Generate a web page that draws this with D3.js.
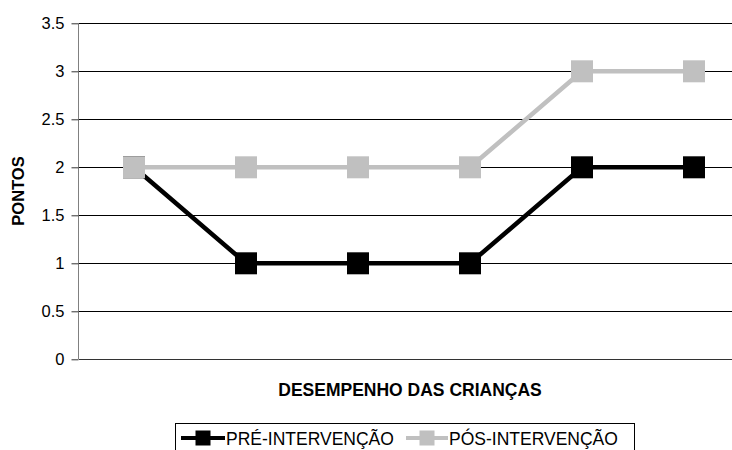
<!DOCTYPE html>
<html>
<head>
<meta charset="utf-8">
<script src="https://cdn.jsdelivr.net/npm/d3@7"></script>
<style>
  html, body { margin: 0; padding: 0; background: #fff; }
  svg { display: block; font-family: "Liberation Sans", Arial, sans-serif; }
</style>
</head>
<body>
<svg id="chart" width="732" height="450"></svg>
<script>
// Children's performance scores, before and after the intervention
const categories = ["1", "2", "3", "4", "5", "6"];
const preValues = [2, 1, 1, 1, 2, 2];
const posValues = [2, 2, 2, 2, 3, 3];
const yTicks = [0, 0.5, 1, 1.5, 2, 2.5, 3, 3.5];
const seriesNames = ["PRÉ-INTERVENÇÃO", "PÓS-INTERVENÇÃO"];
const seriesColors = ["#000000", "#c0c0c0"];

const svg = d3.select("#chart");
const plot = { left: 79, right: 751, top: 23.3, bottom: 359.3 };

const x = d3.scaleBand().domain(categories).range([plot.left - 1, plot.right - 1]);
const y = d3.scaleLinear().domain([0, 3.5]).range([plot.bottom, plot.top]);

// horizontal gridlines
svg.append("g")
  .selectAll("line")
  .data(yTicks.filter(t => t > 0))
  .join("line")
  .attr("x1", plot.left).attr("x2", plot.right)
  .attr("y1", d => Math.round(y(d)) + 0.5).attr("y2", d => Math.round(y(d)) + 0.5)
  .attr("stroke", "#000").attr("stroke-width", 1);

// y axis with tick labels
const yAxis = d3.axisLeft(y).tickValues(yTicks).tickSize(7).tickPadding(7)
  .tickFormat(d => String(d));
const gy = svg.append("g")
  .attr("transform", `translate(${plot.left - 0.5},0)`)
  .call(yAxis);
gy.select(".domain").attr("stroke", "#808080").attr("d", `M0,${plot.top}V${plot.bottom}`);
gy.selectAll(".tick line").attr("stroke", "#333");
gy.selectAll(".tick text").attr("font-size", 16.5).attr("fill", "#000")
  .attr("font-family", "'Liberation Sans', Arial, sans-serif");

// x axis baseline
svg.append("line")
  .attr("x1", plot.left).attr("x2", plot.right)
  .attr("y1", Math.round(y(0)) + 0.5).attr("y2", Math.round(y(0)) + 0.5)
  .attr("stroke", "#333").attr("stroke-width", 1);

// series lines and square markers
const cx = d => x(d) + x.bandwidth() / 2;
const line = d3.line().x(d => cx(d.cat)).y(d => y(d.v));
const series = [preValues, posValues].map((vals, i) => ({
  name: seriesNames[i], color: seriesColors[i],
  pts: categories.map((c, j) => ({ cat: c, v: vals[j] }))
}));
const markerSize = 22;
series.forEach(s => {
  const g = svg.append("g");
  g.append("path").datum(s.pts)
    .attr("d", line).attr("fill", "none")
    .attr("stroke", s.color).attr("stroke-width", 4.5)
    .attr("stroke-linejoin", "miter");
  g.selectAll("rect").data(s.pts).join("rect")
    .attr("x", d => cx(d.cat) - markerSize / 2)
    .attr("y", d => y(d.v) - markerSize / 2)
    .attr("width", markerSize).attr("height", markerSize)
    .attr("fill", s.color);
});

// axis titles
svg.append("text")
  .attr("transform", "translate(24,191) rotate(-90)")
  .attr("text-anchor", "middle")
  .attr("font-size", 16.5).attr("font-weight", "bold")
  .text("PONTOS");
svg.append("text")
  .attr("x", 410).attr("y", 396)
  .attr("text-anchor", "middle")
  .attr("font-size", 17.5).attr("font-weight", "bold")
  .text("DESEMPENHO DAS CRIANÇAS");

// legend
const legend = svg.append("g");
legend.append("rect")
  .attr("x", 175.5).attr("y", 423.5).attr("width", 459).attr("height", 40)
  .attr("fill", "#fff").attr("stroke", "#000").attr("stroke-width", 1);
const legendItems = [
  { x0: 181, x1: 225, tx: 226 },
  { x0: 406, x1: 448, tx: 449 }
];
series.forEach((s, i) => {
  const it = legendItems[i];
  const ly = 438;
  legend.append("line")
    .attr("x1", it.x0).attr("x2", it.x1).attr("y1", ly).attr("y2", ly)
    .attr("stroke", s.color).attr("stroke-width", 4);
  legend.append("rect")
    .attr("x", (it.x0 + it.x1) / 2 - 7.5).attr("y", ly - 7.5)
    .attr("width", 15).attr("height", 15).attr("fill", s.color);
  legend.append("text")
    .attr("x", it.tx).attr("y", 444.5)
    .attr("font-size", 17.5).attr("fill", "#000")
    .text(s.name);
});
</script>
</body>
</html>
